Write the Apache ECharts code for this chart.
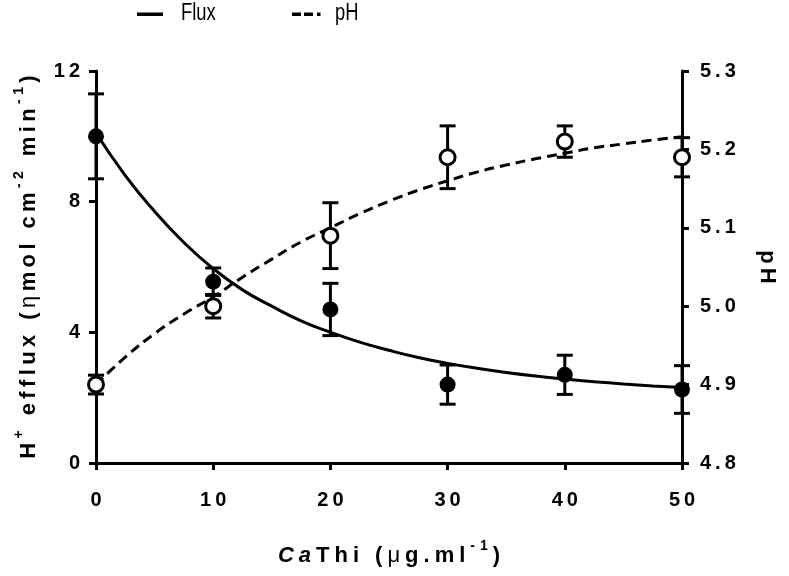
<!DOCTYPE html>
<html>
<head>
<meta charset="utf-8">
<script src="https://cdn.jsdelivr.net/npm/echarts@6/dist/echarts.min.js"></script>
<style>html,body{margin:0;padding:0;background:#fff;}#c{width:789px;height:576px;}</style>
</head>
<body>
<div id="c"></div>
<script>
// ---- data ----
const xTicks = [0, 10, 20, 30, 40, 50];
const fluxMean = [10.0, 5.55, 4.7, 2.4, 2.7, 2.25];
const fluxErr = [1.3, 0.42, 0.8, 0.6, 0.6, 0.73];
const phMean = [4.9, 5.0, 5.09, 5.19, 5.21, 5.19];
const phErr = [0.012, 0.015, 0.042, 0.04, 0.02, 0.025];
const curveX = [0, 2.5, 5, 7.5, 10, 12.5, 15, 17.5, 20, 22.5, 25, 27.5, 30, 32.5, 35, 37.5, 40, 42.5, 45, 47.5, 50];
const fluxCurve = [10.1, 8.8, 7.7, 6.75, 5.95, 5.3, 4.8, 4.35, 4.0, 3.7, 3.45, 3.23, 3.05, 2.9, 2.77, 2.66, 2.57, 2.49, 2.42, 2.36, 2.31];
const phCurve = [4.9, 4.935, 4.965, 4.99, 5.012, 5.037, 5.06, 5.082, 5.10, 5.118, 5.134, 5.148, 5.16, 5.171, 5.18, 5.188, 5.195, 5.202, 5.207, 5.212, 5.216];
const seriesNames = ['Flux', 'pH'];

// ---- helpers ----
const FONT = 'Liberation Sans, Arial, sans-serif';
function spacedRich(parts, styles, ls) {
  const rich = {};
  Object.keys(styles).forEach(k => {
    rich[k] = Object.assign({}, styles[k]);
    rich[k + 'S'] = Object.assign({}, styles[k], {padding: [0, 0, 0, ls]});
  });
  let s = '';
  let first = true;
  parts.forEach(([t, k]) => {
    for (const ch of t) {
      s += '{' + k + (first ? '' : 'S') + '|' + ch + '}';
      first = false;
    }
  });
  return {text: s, rich: rich};
}
const tickStyles = {d: {fontFamily: FONT, fontWeight: 'bold', fontSize: 20, color: '#000'}};
const tickRich = spacedRich([['0', 'd']], tickStyles, 4).rich;
function tickFmt(str) { return spacedRich([[str, 'd']], tickStyles, 4).text; }

const nameStyles = {
  b: {fontFamily: FONT, fontWeight: 'bold', fontSize: 22, color: '#000', lineHeight: 28, verticalAlign: 'bottom'},
  bi: {fontFamily: FONT, fontWeight: 'bold', fontStyle: 'italic', fontSize: 22, color: '#000', lineHeight: 28, verticalAlign: 'bottom'},
  g: {fontFamily: FONT, fontWeight: 'normal', fontSize: 22, color: '#000', lineHeight: 28, verticalAlign: 'bottom'},
  sup: {fontFamily: FONT, fontWeight: 'bold', fontSize: 14, color: '#000', lineHeight: 14, verticalAlign: 'top'}
};
const yName = spacedRich([['H', 'b'], ['+', 'sup'], [' efflux (', 'b'], ['η', 'g'], ['mol cm', 'b'], ['-2', 'sup'], [' min', 'b'], ['-1', 'sup'], [')', 'b']], nameStyles, 4.4);
const xName = spacedRich([['Ca', 'bi'], ['Thi', 'b'], [' (', 'b'], ['μ', 'g'], ['g.ml', 'b'], ['-1', 'sup'], [')', 'b']], nameStyles, 5);
const pName = spacedRich([['pH', 'b']], nameStyles, 4);

function errSeries(mean, err, yIdx) {
  return {
    type: 'custom', yAxisIndex: yIdx, z: 3, silent: true, clip: false,
    data: xTicks.map((x, i) => [x, mean[i], err[i]]),
    encode: {x: 0, y: 1},
    renderItem: function (params, api) {
      const x = api.value(0), m = api.value(1), e = api.value(2);
      const t = api.coord([x, m + e]);
      const b = api.coord([x, m - e]);
      const hw = 8;
      const st = {stroke: '#000', lineWidth: 3};
      return {type: 'group', children: [
        {type: 'line', shape: {x1: t[0], y1: t[1], x2: b[0], y2: b[1]}, style: st},
        {type: 'line', shape: {x1: t[0] - hw, y1: t[1], x2: t[0] + hw, y2: t[1]}, style: st},
        {type: 'line', shape: {x1: b[0] - hw, y1: b[1], x2: b[0] + hw, y2: b[1]}, style: st}
      ]};
    }
  };
}

const axisLine = {show: true, lineStyle: {color: '#000', width: 3}};
const axisTick = {show: true, length: 7, lineStyle: {color: '#000', width: 3}};
const LEG_FONT = 'Liberation Sans, Arial, sans-serif';

const chart = echarts.init(document.getElementById('c'), null, {renderer: 'canvas'});
chart.setOption({
  animation: false,
  backgroundColor: '#fff',
  grid: {left: 96, right: 107, top: 71, bottom: 113},
  graphic: [
    {type: 'rect', shape: {x: 137, y: 12.5, width: 26, height: 3.5}, style: {fill: '#000'}},
    {type: 'text', x: 181, y: 14, scaleX: 0.8, style: {text: seriesNames[0], fontFamily: LEG_FONT, fontSize: 23, fill: '#000', verticalAlign: 'middle', textAlign: 'left'}},
    {type: 'rect', shape: {x: 292, y: 12.5, width: 9, height: 3.5}, style: {fill: '#000'}},
    {type: 'rect', shape: {x: 304, y: 12.5, width: 9, height: 3.5}, style: {fill: '#000'}},
    {type: 'rect', shape: {x: 317, y: 12.5, width: 3.5, height: 3.5}, style: {fill: '#000'}},
    {type: 'text', x: 335, y: 14, scaleX: 0.8, style: {text: seriesNames[1], fontFamily: LEG_FONT, fontSize: 23, fill: '#000', verticalAlign: 'middle', textAlign: 'left'}}
  ],
  xAxis: {
    type: 'value', min: 0, max: 50, interval: 10,
    axisLine: axisLine, axisTick: axisTick, splitLine: {show: false},
    axisLabel: {margin: 27, formatter: v => tickFmt(String(v)), rich: tickRich},
    name: xName.text, nameLocation: 'middle', nameGap: 76,
    nameTextStyle: {rich: xName.rich}
  },
  yAxis: [{
    type: 'value', min: 0, max: 12, interval: 4, position: 'left',
    axisLine: axisLine, axisTick: axisTick, splitLine: {show: false},
    axisLabel: {margin: 16, formatter: v => tickFmt(String(v)), rich: tickRich},
    name: yName.text, nameLocation: 'middle', nameGap: 56, nameRotate: 90,
    nameTextStyle: {rich: yName.rich}
  }, {
    type: 'value', min: 4.8, max: 5.3, interval: 0.1, position: 'right',
    axisLine: axisLine, axisTick: axisTick, splitLine: {show: false},
    axisLabel: {margin: 18, formatter: v => tickFmt(v.toFixed(1)), rich: tickRich},
    name: pName.text, nameLocation: 'middle', nameGap: 74, nameRotate: -90,
    nameTextStyle: {rich: pName.rich}
  }],
  series: [
    {name: seriesNames[0], type: 'line', yAxisIndex: 0, smooth: true, symbol: 'none', z: 2,
     data: curveX.map((x, i) => [x, fluxCurve[i]]),
     lineStyle: {color: '#000', width: 3, type: 'solid'}, itemStyle: {color: '#000'}},
    {name: seriesNames[1], type: 'line', yAxisIndex: 1, smooth: true, symbol: 'none', z: 2,
     data: curveX.map((x, i) => [x, phCurve[i]]),
     lineStyle: {color: '#000', width: 3, type: [10, 6]}, itemStyle: {color: '#000'}},
    errSeries(fluxMean, fluxErr, 0),
    errSeries(phMean, phErr, 1),
    {type: 'scatter', yAxisIndex: 0, z: 5, symbol: 'circle', symbolSize: 16,
     data: xTicks.map((x, i) => [x, fluxMean[i]]),
     itemStyle: {color: '#000', opacity: 1}},
    {type: 'scatter', yAxisIndex: 1, z: 5, symbol: 'circle', symbolSize: 15,
     data: xTicks.map((x, i) => [x, phMean[i]]),
     itemStyle: {color: '#fff', borderColor: '#000', borderWidth: 3, opacity: 1}}
  ]
});
</script>
</body>
</html>
